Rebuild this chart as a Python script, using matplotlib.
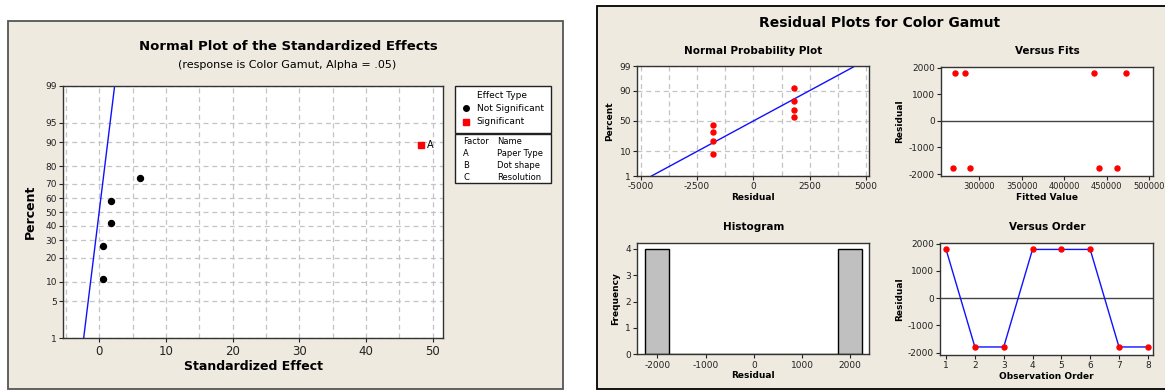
"""Minitab-style effects plot + 4-in-1 residual plots for Color Gamut."""
import numpy as np
import matplotlib
matplotlib.use("Agg")
import matplotlib.pyplot as plt
from matplotlib.patches import Rectangle
from matplotlib.ticker import MultipleLocator
from statistics import NormalDist

# --- normal plot of standardized effects
effect_vals = [0.6, 0.6, 1.75, 1.75, 6.05]
effect_pct = [10.9, 26.6, 42.2, 57.8, 73.4]
sig_vals = [48.3]
sig_pct = [89.1]
sig_names = ["A"]
ref_x = [-2.35, 2.3]
ref_pct = [1, 99]
pct_ticks = [1, 5, 10, 20, 30, 40, 50, 60, 70, 80, 90, 95, 99]
factors = ["A", "B", "C"]
factor_names = ["Paper Type", "Dot shape", "Resolution"]

# --- residual plots
obs_order = [1, 2, 3, 4, 5, 6, 7, 8]
residuals = [1790, -1790, -1790, 1790, 1790, 1790, -1790, -1790]
fitted = [271400, 268600, 289000, 283200, 434500, 472200, 441200, 461600]
npp_pct = [8.3, 20.2, 32.1, 44.0, 56.0, 67.9, 79.8, 91.7]
npp_line_x = [-4520, 4520]
npp_line_pct = [1, 99]
hist_edges = [-2250, -1750, -1250, -750, -250, 250, 750, 1250, 1750, 2250]

W, H = 1165, 390
BEIGE = "#EEEAE0"
GRID = "#C4C4C4"
plt.rcParams["font.family"] = "DejaVu Sans"
plt.rcParams["axes.unicode_minus"] = False

nd = NormalDist()
_ppf = np.vectorize(lambda v: nd.inv_cdf(v / 100.0), otypes=[float])
_cdf = np.vectorize(lambda v: nd.cdf(v) * 100.0, otypes=[float])


def fwd(p):
    return _ppf(np.clip(np.asarray(p, float), 1e-6, 100 - 1e-6))


def inv(z):
    return _cdf(np.asarray(z, float))


def box(l, t, r, b):
    return [l / W, 1 - b / H, (r - l) / W, (b - t) / H]


def style(ax, fs=6.5):
    for s in ax.spines.values():
        s.set_color("#333333"); s.set_linewidth(1.0)
    ax.tick_params(labelsize=fs, length=3, width=0.8, colors="#222222", pad=1.5)


fig = plt.figure(figsize=(W / 100, H / 100), dpi=100)
fig.patch.set_facecolor("white")

bg = fig.add_axes([0, 0, 1, 1])
bg.set_xlim(0, W); bg.set_ylim(H, 0); bg.axis("off")
bg.add_patch(Rectangle((8, 20.5), 555, 368.5, fc=BEIGE, ec="#555555", lw=1.3))
bg.add_patch(Rectangle((597, 6), 580, 383, fc=BEIGE, ec="black", lw=1.3))

# ---------------- left panel
bg.text(288, 47, "Normal Plot of the Standardized Effects", ha="center", va="center",
        fontsize=9.5, weight="bold")
bg.text(287, 65.5, "(response is Color Gamut, Alpha = .05)", ha="center", va="center", fontsize=8)

ax = fig.add_axes(box(63.3, 85.7, 442.8, 338.3))
ax.set_yscale("function", functions=(fwd, inv))
ax.set_xlim(-5.4, 51.5); ax.set_ylim(1, 99)
ax.set_yticks(pct_ticks); ax.set_yticklabels([str(t) for t in pct_ticks])
ax.set_xticks([0, 10, 20, 30, 40, 50])
ax.xaxis.set_minor_locator(MultipleLocator(5))
ax.tick_params(axis="x", which="minor", length=0)
ax.grid(True, which="both", ls=(0, (4, 3)), color=GRID, lw=0.9)
ax.set_axisbelow(True)
ax.plot(ref_x, ref_pct, color="#1010FF", lw=1.0)
ax.plot(effect_vals, effect_pct, "o", color="black", ms=4.3, ls="none")
ax.plot(sig_vals, sig_pct, "s", color="#FF0000", ms=4.6, ls="none")
for x, p, n in zip(sig_vals, sig_pct, sig_names):
    ax.annotate(n, (x, p), textcoords="offset points", xytext=(4, 0), va="center", fontsize=7)
style(ax)
ax.tick_params(axis="x", labelsize=8.5)
ax.set_xlabel("Standardized Effect", fontsize=9, weight="bold", labelpad=2)
ax.set_ylabel("Percent", fontsize=9, weight="bold", labelpad=6)

# legend boxes
bg.add_patch(Rectangle((455, 86), 95.7, 46.7, fc="white", ec="#222222", lw=1.0))
bg.add_patch(Rectangle((455, 134), 95.7, 49.3, fc="white", ec="#222222", lw=1.0))
bg.text(476.7, 96, "Effect Type", fontsize=6.5, va="center")
bg.plot([465.7], [108.3], "o", color="black", ms=4)
bg.text(476.7, 108.3, "Not Significant", fontsize=6.5, va="center")
bg.plot([465.7], [122], "s", color="#FF0000", ms=4)
bg.text(476.7, 122, "Significant", fontsize=6.5, va="center")
bg.text(463.3, 141, "Factor", fontsize=6, va="center")
bg.text(497.3, 141, "Name", fontsize=6, va="center")
for i, (f, n) in enumerate(zip(factors, factor_names)):
    bg.text(463.3, 153 + 12 * i, f, fontsize=6, va="center")
    bg.text(497.3, 153 + 12 * i, n, fontsize=6, va="center")

# ---------------- right panel
bg.text(880, 23, "Residual Plots for Color Gamut", ha="center", va="center",
        fontsize=10, weight="bold")

# normal probability plot
a1 = fig.add_axes(box(637.3, 66, 869, 176))
a1.set_yscale("function", functions=(fwd, inv))
a1.set_xlim(-5150, 5133); a1.set_ylim(1, 99)
a1.set_yticks([1, 10, 50, 90, 99])
a1.set_yticklabels(["1", "10", "50", "90", "99"])
a1.set_xticks([-5000, -2500, 0, 2500, 5000])
a1.xaxis.set_minor_locator(MultipleLocator(1250))
a1.tick_params(axis="x", which="minor", length=0)
a1.grid(True, which="both", ls=(0, (4, 3)), color=GRID, lw=0.9)
a1.set_axisbelow(True)
a1.plot(npp_line_x, npp_line_pct, color="#1010FF", lw=1.0)
a1.plot(sorted(residuals), npp_pct, "o", color="#FF0000", ms=3.6, ls="none")
style(a1)
a1.set_title("Normal Probability Plot", fontsize=7.5, weight="bold", pad=9)
a1.set_xlabel("Residual", fontsize=6.5, weight="bold", labelpad=1)
a1.set_ylabel("Percent", fontsize=6.5, weight="bold", labelpad=4)

# versus fits
a2 = fig.add_axes(box(941, 66.7, 1153.3, 176))
a2.set_xlim(254900, 504700); a2.set_ylim(-2075, 2040)
a2.set_xticks([300000, 350000, 400000, 450000, 500000])
a2.set_yticks([-2000, -1000, 0, 1000, 2000])
a2.axhline(0, color="#444444", lw=1.0)
a2.plot(fitted, residuals, "o", color="#FF0000", ms=3.6, ls="none")
style(a2)
a2.tick_params(axis="x", labelsize=6)
a2.set_title("Versus Fits", fontsize=7.5, weight="bold", pad=9)
a2.set_xlabel("Fitted Value", fontsize=6.5, weight="bold", labelpad=1)
a2.set_ylabel("Residual", fontsize=6.5, weight="bold", labelpad=3)

# histogram
a3 = fig.add_axes(box(637.3, 242.7, 869.3, 354.3))
a3.hist(residuals, bins=hist_edges, color="#C0C0C0", edgecolor="black", lw=1.0)
a3.set_xlim(-2415, 2394); a3.set_ylim(0, 4.23)
a3.set_xticks([-2000, -1000, 0, 1000, 2000])
a3.set_yticks([0, 1, 2, 3, 4])
style(a3)
a3.set_title("Histogram", fontsize=7.5, weight="bold", pad=9)
a3.set_xlabel("Residual", fontsize=6.5, weight="bold", labelpad=1)
a3.set_ylabel("Frequency", fontsize=6.5, weight="bold", labelpad=4)

# versus order
a4 = fig.add_axes(box(940.3, 242.7, 1153.3, 355))
a4.set_xlim(0.8, 8.19); a4.set_ylim(-2085, 2037)
a4.set_xticks(obs_order)
a4.set_yticks([-2000, -1000, 0, 1000, 2000])
a4.axhline(0, color="#444444", lw=1.0)
a4.plot(obs_order, residuals, "-", color="#1010FF", lw=1.0)
a4.plot(obs_order, residuals, "o", color="#FF0000", ms=3.6, ls="none")
style(a4)
a4.set_title("Versus Order", fontsize=7.5, weight="bold", pad=9)
a4.set_xlabel("Observation Order", fontsize=6.5, weight="bold", labelpad=1)
a4.set_ylabel("Residual", fontsize=6.5, weight="bold", labelpad=3)

fig.savefig("out.png", dpi=100, facecolor="white")
print("[plot] wrote out.png")
